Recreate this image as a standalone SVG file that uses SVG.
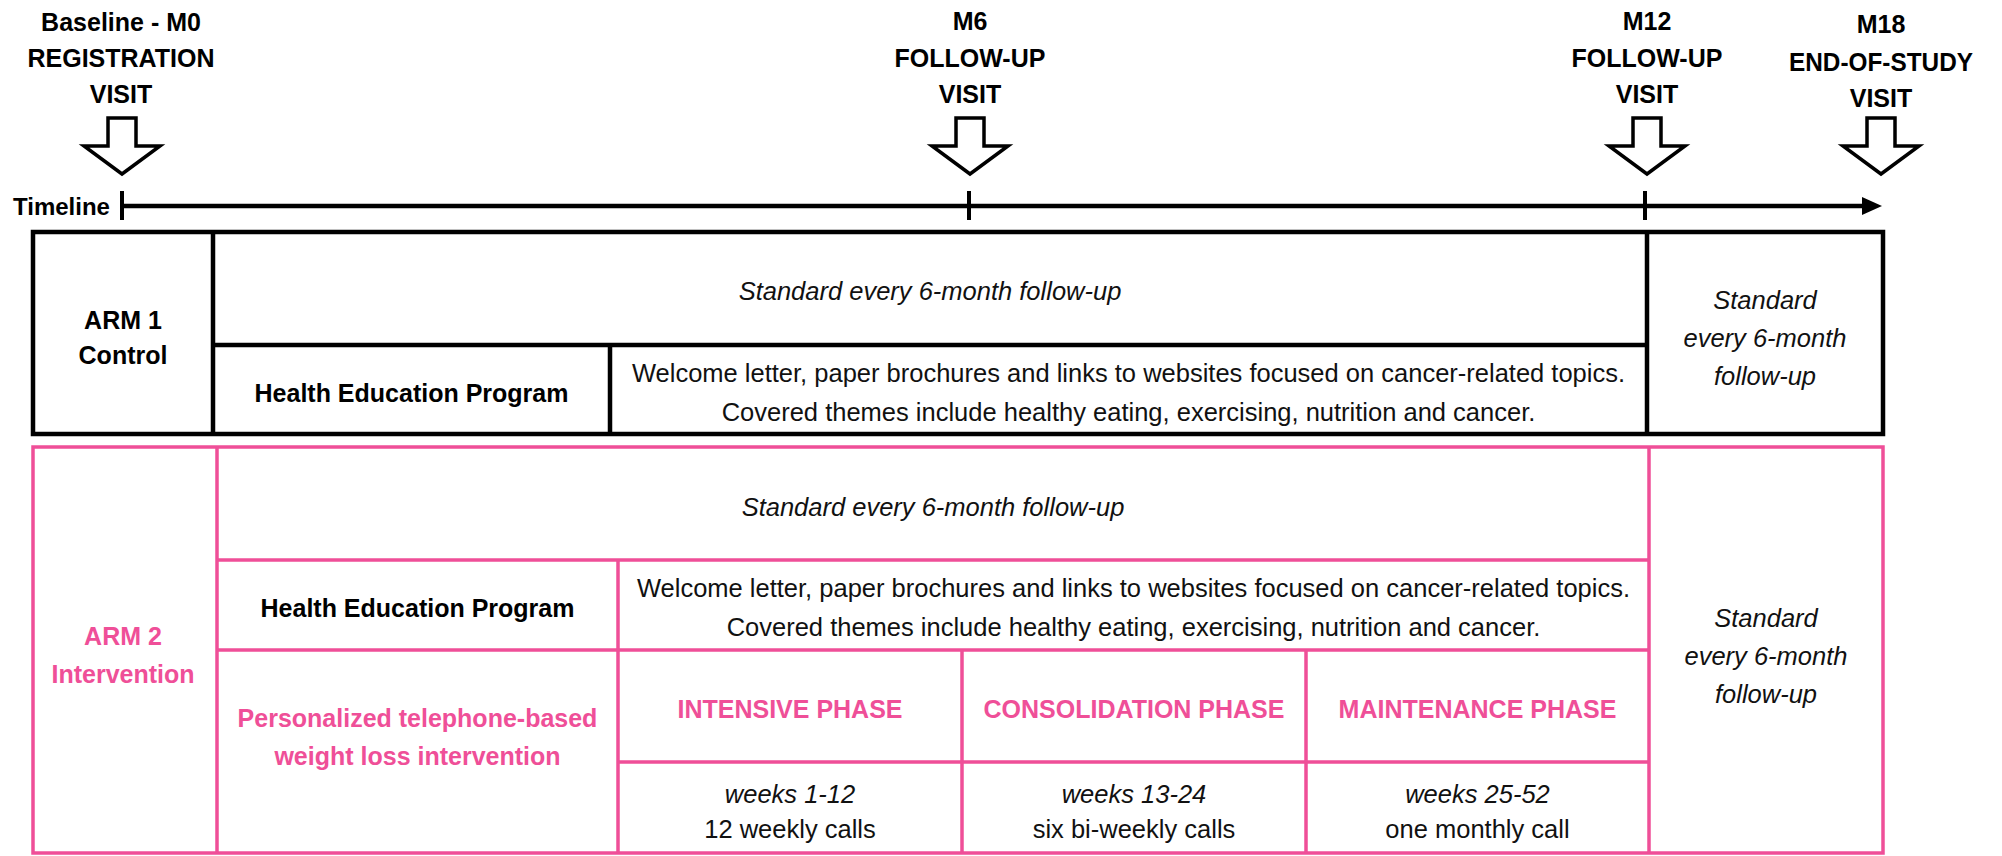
<svg xmlns="http://www.w3.org/2000/svg" width="2002" height="856" viewBox="0 0 2002 856">
<style>
text{font-family:"Liberation Sans",Arial,sans-serif;font-size:25.5px;text-anchor:middle;fill:#111}
.b{font-weight:bold;fill:#000;font-size:25px}
.i{font-style:italic}
.pk{fill:#EF4F98}
.blk{fill:none;stroke:#000;stroke-width:4.5}
.pnk{fill:none;stroke:#EF4F98;stroke-width:3.5}
.arr{fill:#fff;stroke:#000;stroke-width:3.5;stroke-linejoin:miter}
</style>
<defs>
<path id="blockArrow" d="M-14,118 L14,118 L14,146 L38,146 L0,174 L-38,146 L-14,146 Z"/>
</defs>
<rect width="2002" height="856" fill="#fff"/>

<g id="m0">
<text class="b" x="121" y="31">Baseline - M0</text>
<text class="b" x="121" y="67">REGISTRATION</text>
<text class="b" x="121" y="103">VISIT</text>
<use href="#blockArrow" class="arr" transform="translate(122,0)"/>
</g>
<g id="m6">
<text class="b" x="970" y="30">M6</text>
<text class="b" x="970" y="67">FOLLOW-UP</text>
<text class="b" x="970" y="103">VISIT</text>
<use href="#blockArrow" class="arr" transform="translate(970,0)"/>
</g>
<g id="m12">
<text class="b" x="1647" y="30">M12</text>
<text class="b" x="1647" y="67">FOLLOW-UP</text>
<text class="b" x="1647" y="103">VISIT</text>
<use href="#blockArrow" class="arr" transform="translate(1647,0)"/>
</g>
<g id="m18">
<text class="b" x="1881" y="33">M18</text>
<text class="b" x="1881" y="71" textLength="184" lengthAdjust="spacingAndGlyphs">END-OF-STUDY</text>
<text class="b" x="1881" y="107">VISIT</text>
<use href="#blockArrow" class="arr" transform="translate(1881,0)"/>
</g>

<g id="timeline-label">
<text class="b" x="13" y="215" style="text-anchor:start;font-size:24px">Timeline</text>
</g>

<g id="connectors">
<line x1="122" y1="206" x2="1865" y2="206" stroke="#000" stroke-width="4.5"/>
<polygon points="1862,197 1882,206 1862,215" fill="#000"/>
<line x1="122" y1="191" x2="122" y2="220" stroke="#000" stroke-width="4"/>
<line x1="969" y1="191" x2="969" y2="220" stroke="#000" stroke-width="4"/>
<line x1="1645" y1="191" x2="1645" y2="220" stroke="#000" stroke-width="4"/>
</g>

<g id="arm1">
<rect class="blk" x="33" y="232" width="1850" height="202"/>
<path class="blk" d="M213,232V434 M1647,232V434 M213,345H1647 M610,345V434"/>
<g id="arm1-label">
<text class="b" x="123" y="329">ARM 1</text>
<text class="b" x="123" y="364">Control</text>
</g>
<g id="arm1-standard">
<text class="i" x="930" y="300">Standard every 6-month follow-up</text>
</g>
<g id="arm1-hep">
<text class="b" x="411.5" y="402">Health Education Program</text>
</g>
<g id="arm1-hep-desc">
<text x="1128.5" y="382">Welcome letter, paper brochures and links to websites focused on cancer-related topics.</text>
<text x="1128.5" y="421">Covered themes include healthy eating, exercising, nutrition and cancer.</text>
</g>
<g id="arm1-final">
<text class="i" x="1765" y="309">Standard</text>
<text class="i" x="1765" y="347">every 6-month</text>
<text class="i" x="1765" y="385">follow-up</text>
</g>
</g>

<g id="arm2">
<rect class="pnk" x="33" y="447" width="1850" height="406"/>
<path class="pnk" d="M217,447V853 M1649,447V853 M217,560H1649 M217,650H1649 M618,560V853 M618,762H1649 M962,650V853 M1306,650V853"/>
<g id="arm2-label">
<text class="b pk" x="123" y="645">ARM 2</text>
<text class="b pk" x="123" y="683">Intervention</text>
</g>
<g id="arm2-standard">
<text class="i" x="933" y="516">Standard every 6-month follow-up</text>
</g>
<g id="arm2-hep">
<text class="b" x="417.5" y="617">Health Education Program</text>
</g>
<g id="arm2-hep-desc">
<text x="1133.5" y="597">Welcome letter, paper brochures and links to websites focused on cancer-related topics.</text>
<text x="1133.5" y="636">Covered themes include healthy eating, exercising, nutrition and cancer.</text>
</g>
<g id="arm2-telephone">
<text class="b pk" x="417.5" y="727">Personalized telephone-based</text>
<text class="b pk" x="417.5" y="765">weight loss intervention</text>
</g>
<g id="phase-intensive">
<text class="b pk" x="790" y="718">INTENSIVE PHASE</text>
<text class="i" x="790" y="803">weeks 1-12</text>
<text x="790" y="838">12 weekly calls</text>
</g>
<g id="phase-consolidation">
<text class="b pk" x="1134" y="718">CONSOLIDATION PHASE</text>
<text class="i" x="1134" y="803">weeks 13-24</text>
<text x="1134" y="838">six bi-weekly calls</text>
</g>
<g id="phase-maintenance">
<text class="b pk" x="1477.5" y="718">MAINTENANCE PHASE</text>
<text class="i" x="1477.5" y="803">weeks 25-52</text>
<text x="1477.5" y="838">one monthly call</text>
</g>
<g id="arm2-final">
<text class="i" x="1766" y="627">Standard</text>
<text class="i" x="1766" y="665">every 6-month</text>
<text class="i" x="1766" y="703">follow-up</text>
</g>
</g>
</svg>
